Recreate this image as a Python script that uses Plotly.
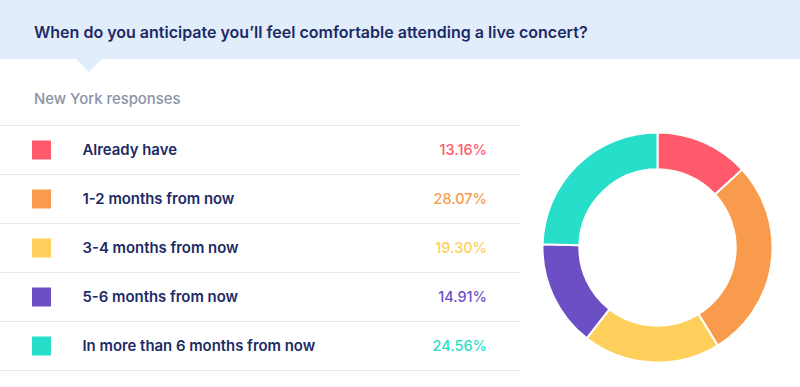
import plotly.graph_objects as go

title_text = "When do you anticipate you\u2019ll feel comfortable attending a live concert?"
subtitle_text = "New York responses"
categories = ["Already have", "1-2 months from now", "3-4 months from now",
              "5-6 months from now", "In more than 6 months from now"]
values = [13.16, 28.07, 19.30, 14.91, 24.56]
colors = ["#FF5A6C", "#F99B4C", "#FFCF5C", "#6D4FC5", "#27DECA"]

W, H = 800, 387
NAVY = "#1C2A66"
FONT = "Inter"

row_y0, row_step = 150, 49.0
row_y = [row_y0 + i * row_step for i in range(len(categories))]

fig = go.Figure()

# legend swatches
fig.add_trace(go.Scatter(
    x=[41.5] * len(categories), y=row_y, mode="markers",
    marker=dict(symbol="square", size=19, color=colors, line=dict(width=0)),
    hoverinfo="skip", showlegend=False))
# labels
fig.add_trace(go.Scatter(
    x=[82.5] * len(categories), y=[y + 1 for y in row_y], mode="text", text=categories,
    textposition="middle right",
    textfont=dict(family=FONT, size=14.9, color=NAVY, weight=600),
    hoverinfo="skip", showlegend=False))
# percentages
fig.add_trace(go.Scatter(
    x=[487] * len(categories), y=[y + 1 for y in row_y], mode="text",
    text=[f"{v:.2f}%" for v in values], textposition="middle left",
    textfont=dict(family=FONT, size=14.5, color=colors, weight=500),
    hoverinfo="skip", showlegend=False))

# donut
cx, cy, r = 657.5, 247.5, 115
fig.add_trace(go.Pie(
    labels=categories, values=values, sort=False, direction="clockwise",
    rotation=0, hole=0.68, textinfo="none", hoverinfo="label+percent",
    marker=dict(colors=colors, line=dict(color="white", width=2)),
    domain=dict(x=[(cx - r) / W, (cx + r) / W],
                y=[(H - cy - r) / H, (H - cy + r) / H]),
    showlegend=False))

shapes = [
    dict(type="rect", xref="x", yref="y", x0=0, x1=800, y0=0, y1=59,
         fillcolor="#E2EDFB", line=dict(width=0), layer="below"),
    dict(type="path", xref="x", yref="y", path="M 76 59 L 89 72 L 102 59 Z",
         fillcolor="#E2EDFB", line=dict(width=0), layer="below"),
]
for yy in [125.5] + [y + row_step / 2 for y in row_y]:
    shapes.append(dict(type="line", xref="x", yref="y", x0=0, x1=520, y0=yy, y1=yy,
                       line=dict(color="#E6E8EC", width=1.2), layer="below"))

annotations = [
    dict(x=32, y=31.5, xref="x", yref="y", text=title_text, showarrow=False,
         xanchor="left", yanchor="middle",
         font=dict(family=FONT, size=16, color=NAVY, weight=600)),
    dict(x=32, y=98.5, xref="x", yref="y", text=subtitle_text, showarrow=False,
         xanchor="left", yanchor="middle",
         font=dict(family=FONT, size=14.9, color="#8A94A6", weight=500)),
]

fig.update_layout(
    width=W, height=H, margin=dict(l=0, r=0, t=0, b=0),
    paper_bgcolor="white", plot_bgcolor="white",
    xaxis=dict(range=[0, W], visible=False, fixedrange=True, domain=[0, 1]),
    yaxis=dict(range=[H, 0], visible=False, fixedrange=True, domain=[0, 1]),
    shapes=shapes, annotations=annotations,
)

fig.write_html("out.html", config={"displayModeBar": False},
               post_script="document.body.style.margin='0';document.body.style.overflow='hidden';")
